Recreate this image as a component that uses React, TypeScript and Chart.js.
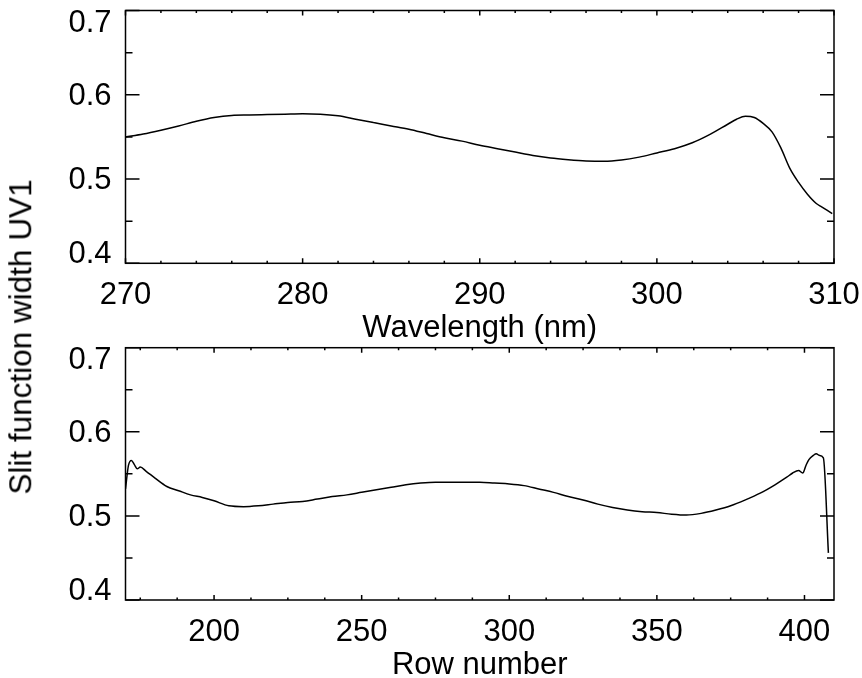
import React, { useEffect, useRef } from "react";
import { Chart, registerables } from "chart.js";

Chart.register(...registerables);

// ---- Data ----
const wavelengthNm = [
  270, 271, 272, 273, 274, 275, 276, 277, 278, 279, 280, 281, 282, 283, 284, 285, 286, 287, 288, 289,
  290, 291, 292, 293, 294, 295, 296, 297, 298, 299, 300, 301, 302, 303, 304, 304.5, 305, 305.5, 306,
  306.5, 307, 307.5, 308, 308.5, 309, 309.3, 309.6, 309.9,
];
const slitWidthByWavelength = [
  0.55, 0.5535, 0.558, 0.563, 0.5685, 0.573, 0.5755, 0.576, 0.5765, 0.577, 0.5775, 0.577, 0.575, 0.571,
  0.567, 0.563, 0.559, 0.554, 0.549, 0.545, 0.54, 0.536, 0.532, 0.528, 0.525, 0.523, 0.5215, 0.521,
  0.5225, 0.526, 0.531, 0.536, 0.543, 0.553, 0.565, 0.571, 0.5745, 0.573, 0.566, 0.556, 0.537, 0.513,
  0.496, 0.482, 0.471, 0.467, 0.463, 0.459,
];

const rowNumber = [
  170, 171, 172, 173, 174, 175, 177, 180, 184, 188, 192, 196, 200, 205, 210, 215, 220, 225, 230, 235,
  240, 245, 250, 255, 260, 265, 270, 275, 280, 285, 290, 295, 300, 305, 310, 315, 320, 325, 330, 335,
  340, 345, 350, 355, 360, 365, 370, 375, 380, 385, 390, 394, 396, 398, 399.4, 400.5, 401.5, 403, 404,
  405, 406.4, 408.1,
];
const slitWidthByRow = [
  0.532, 0.56, 0.566, 0.561, 0.556, 0.558, 0.553, 0.545, 0.535, 0.53, 0.525, 0.522, 0.518, 0.512,
  0.511, 0.512, 0.514, 0.516, 0.517, 0.52, 0.523, 0.525, 0.528, 0.531, 0.534, 0.537, 0.539, 0.54, 0.54,
  0.54, 0.54, 0.539, 0.538, 0.536, 0.532, 0.528, 0.523, 0.519, 0.514, 0.51, 0.507, 0.505, 0.504,
  0.502, 0.501, 0.503, 0.507, 0.512, 0.519, 0.527, 0.537, 0.546, 0.551, 0.554, 0.551, 0.56, 0.567,
  0.572, 0.574, 0.572, 0.569, 0.456,
];

// ---- Axes / ticks ----
const topXRange = [270, 310];
const topXMajor = [270, 280, 290, 300, 310];
const topXMinor = [272, 274, 276, 278, 282, 284, 286, 288, 292, 294, 296, 298, 302, 304, 306, 308];
const bottomXRange = [170, 410];
const bottomXMajor = [200, 250, 300, 350, 400];
const bottomXMinor = [175, 187.5, 212.5, 225, 237.5, 262.5, 275, 287.5, 312.5, 325, 337.5, 362.5, 375, 387.5];
const yRange = [0.4, 0.7];
const yMajor = [0.4, 0.5, 0.6, 0.7];
const yMinor = [0.45, 0.55, 0.65];
const yTickLabels = ["0.4", "0.5", "0.6", "0.7"];
const topXTitle = "Wavelength (nm)";
const bottomXTitle = "Row number";
const yTitle = "Slit function width UV1";

const FONT_FAMILY = '"Liberation Sans", Arial, Helvetica, sans-serif';
const FONT = `31px ${FONT_FAMILY}`;

type AxisOpts = { xMajor: number[]; xMinor: number[]; title: string };

function idlAxes(opts: AxisOpts) {
  return {
    id: "idlAxes",
    afterDatasetsDraw(chart: any) {
      const { ctx, chartArea: a, scales } = chart;
      const x = scales.x;
      const y = scales.y;
      ctx.save();
      ctx.strokeStyle = "#000";
      ctx.lineWidth = 1.5;
      ctx.strokeRect(a.left, a.top, a.right - a.left, a.bottom - a.top);

      ctx.beginPath();
      const xt = (v: number, len: number) => {
        const px = x.getPixelForValue(v);
        ctx.moveTo(px, a.bottom);
        ctx.lineTo(px, a.bottom - len);
        ctx.moveTo(px, a.top);
        ctx.lineTo(px, a.top + len);
      };
      const yt = (v: number, len: number) => {
        const py = y.getPixelForValue(v);
        ctx.moveTo(a.left, py);
        ctx.lineTo(a.left + len, py);
        ctx.moveTo(a.right, py);
        ctx.lineTo(a.right - len, py);
      };
      opts.xMajor.forEach((v) => xt(v, 5));
      opts.xMinor.forEach((v) => xt(v, 2.5));
      yMajor.forEach((v) => yt(v, 14));
      yMinor.forEach((v) => yt(v, 7));
      ctx.stroke();

      ctx.fillStyle = "#000";
      ctx.font = FONT;
      ctx.textBaseline = "alphabetic";
      ctx.textAlign = "center";
      opts.xMajor.forEach((v) => {
        ctx.fillText(String(v), x.getPixelForValue(v), a.bottom + 41);
      });
      ctx.textAlign = "right";
      yMajor.forEach((v, i) => {
        let py = y.getPixelForValue(v) + 10;
        py = Math.max(py, a.top + 21);
        py = Math.min(py, a.bottom);
        ctx.fillText(yTickLabels[i], a.left - 14, py);
      });
      ctx.textAlign = "center";
      ctx.fillText(opts.title, (a.left + a.right) / 2, a.bottom + 74);
      ctx.restore();
    },
  };
}

function makeChart(
  canvas: HTMLCanvasElement,
  xs: number[],
  ys: number[],
  xRange: number[],
  padTop: number,
  padBottom: number,
  axis: AxisOpts
) {
  return new Chart(canvas, {
    type: "line",
    data: {
      datasets: [
        {
          data: xs.map((xv, i) => ({ x: xv, y: ys[i] })),
          borderColor: "#000",
          borderWidth: 1.5,
          pointRadius: 0,
          fill: false,
          cubicInterpolationMode: "monotone",
        },
      ],
    },
    options: {
      responsive: false,
      animation: false,
      events: [],
      layout: { padding: { left: 125.5, right: 28, top: padTop, bottom: padBottom } },
      scales: {
        x: { type: "linear", min: xRange[0], max: xRange[1], display: false },
        y: { type: "linear", min: yRange[0], max: yRange[1], display: false },
      },
      plugins: { legend: { display: false }, tooltip: { enabled: false } },
    },
    plugins: [idlAxes(axis)],
  } as any);
}

export default function App() {
  const topRef = useRef<HTMLCanvasElement>(null);
  const botRef = useRef<HTMLCanvasElement>(null);

  useEffect(() => {
    const c1 = makeChart(topRef.current!, wavelengthNm, slitWidthByWavelength, topXRange, 10.5, 86.7, {
      xMajor: topXMajor,
      xMinor: topXMinor,
      title: topXTitle,
    });
    const c2 = makeChart(botRef.current!, rowNumber, slitWidthByRow, bottomXRange, 8.7, 78, {
      xMajor: bottomXMajor,
      xMinor: bottomXMinor,
      title: bottomXTitle,
    });
    return () => {
      c1.destroy();
      c2.destroy();
    };
  }, []);

  return (
    <div style={{ position: "fixed", left: 0, top: 0, width: 862, height: 678, background: "#fff" }}>
      <canvas ref={botRef} width={862} height={339} style={{ position: "absolute", left: 0, top: 339, display: "block" }} />
      <canvas ref={topRef} width={862} height={350} style={{ position: "absolute", left: 0, top: 0, display: "block" }} />
      <div
        style={{
          position: "absolute",
          left: 21,
          top: 337,
          transform: "translate(-50%, -50%) rotate(-90deg)",
          whiteSpace: "nowrap",
          font: `31.5px ${FONT_FAMILY}`,
          color: "#000",
          lineHeight: 1,
        }}
      >
        {yTitle}
      </div>
    </div>
  );
}
